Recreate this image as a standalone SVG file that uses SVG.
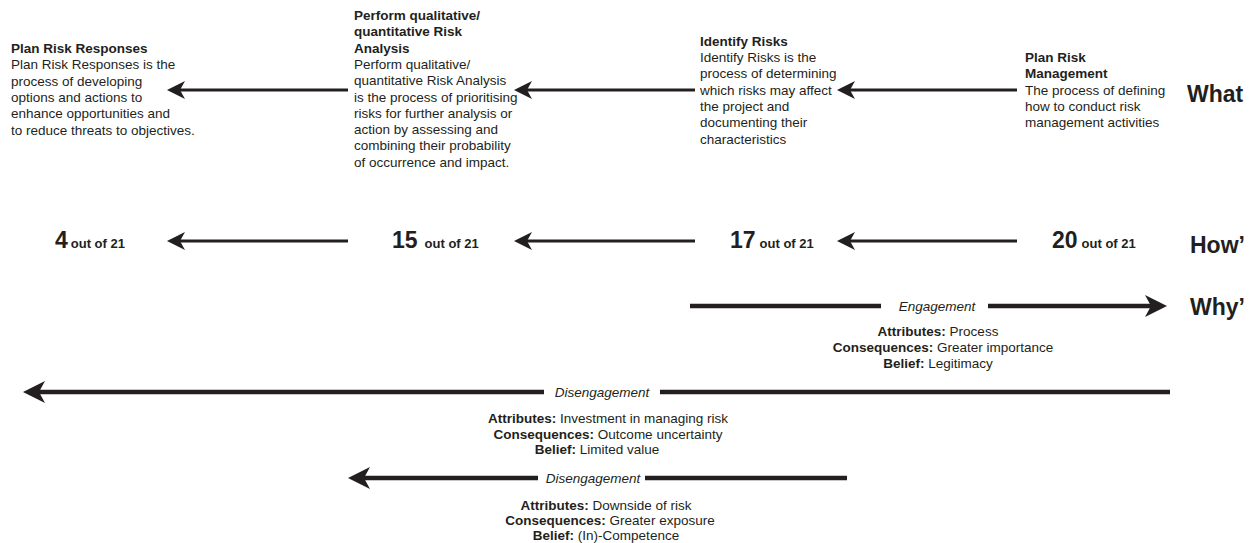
<svg xmlns="http://www.w3.org/2000/svg" width="1256" height="543" viewBox="0 0 1256 543">
<style>
text{font-family:"Liberation Sans",Arial,sans-serif;fill:#231f20}
.t{font-size:13.5px;font-weight:bold}
.b{font-size:13.5px}
.big{font-size:23px;font-weight:bold}
.sm{font-size:13px;font-weight:bold}
.q{font-size:23px;font-weight:bold}
.it{font-size:13.5px;font-style:italic}
.lb{font-weight:bold}
.kv{font-size:13.5px;text-anchor:middle}
.thin{stroke:#231f20;stroke-width:2.8;fill:none}
.thick{stroke:#231f20;stroke-width:4.5;fill:none}
</style>
<defs>
<marker id="ah" viewBox="0 0 18 18" markerWidth="18" markerHeight="18" refX="5" refY="9" orient="auto" markerUnits="userSpaceOnUse">
<path d="M0,0 L18,9 L0,18 L5,9 Z" fill="#231f20"/>
</marker>
<marker id="ahk" viewBox="0 0 22 22" markerWidth="22" markerHeight="22" refX="6" refY="11" orient="auto" markerUnits="userSpaceOnUse">
<path d="M0,0 L22,11 L0,22 L6,11 Z" fill="#231f20"/>
</marker>
</defs>
<rect width="1256" height="543" fill="#fff"/>

<g id="n-plan-risk-responses">
<text x="11" y="53" class="t">Plan Risk Responses</text>
<text x="11" y="69.3" class="b">Plan Risk Responses is the</text>
<text x="11" y="85.6" class="b">process of developing</text>
<text x="11" y="101.9" class="b">options and actions to</text>
<text x="11" y="118.2" class="b">enhance opportunities and</text>
<text x="11" y="134.5" class="b">to reduce threats to objectives.</text>
</g>

<g id="n-risk-analysis">
<text x="354" y="20" class="t">Perform qualitative/</text>
<text x="354" y="36.3" class="t">quantitative Risk</text>
<text x="354" y="52.6" class="t">Analysis</text>
<text x="354" y="68.9" class="b">Perform qualitative/</text>
<text x="354" y="85.2" class="b">quantitative Risk Analysis</text>
<text x="354" y="101.5" class="b">is the process of prioritising</text>
<text x="354" y="117.8" class="b">risks for further analysis or</text>
<text x="354" y="134.1" class="b">action by assessing and</text>
<text x="354" y="150.4" class="b">combining their probability</text>
<text x="354" y="166.7" class="b">of occurrence and impact.</text>
</g>

<g id="n-identify-risks">
<text x="700" y="45.7" class="t">Identify Risks</text>
<text x="700" y="62" class="b">Identify Risks is the</text>
<text x="700" y="78.3" class="b">process of determining</text>
<text x="700" y="94.6" class="b">which risks may affect</text>
<text x="700" y="110.9" class="b">the project and</text>
<text x="700" y="127.2" class="b">documenting their</text>
<text x="700" y="143.5" class="b">characteristics</text>
</g>

<g id="n-plan-risk-management">
<text x="1025" y="62" class="t">Plan Risk</text>
<text x="1025" y="78.3" class="t">Management</text>
<text x="1025" y="94.6" class="b">The process of defining</text>
<text x="1025" y="110.9" class="b">how to conduct risk</text>
<text x="1025" y="127.2" class="b">management activities</text>
</g>

<g id="n-row-labels">
<text x="1187" y="102" class="q">What</text>
<text x="1190" y="253" class="q">How’</text>
<text x="1190" y="315" class="q">Why’</text>
</g>

<g id="n-count-4"><text x="55" y="248"><tspan class="big">4</tspan><tspan class="sm" dx="3">out of 21</tspan></text></g>
<g id="n-count-15"><text x="392" y="248"><tspan class="big">15</tspan><tspan class="sm" dx="7">out of 21</tspan></text></g>
<g id="n-count-17"><text x="730" y="248"><tspan class="big">17</tspan><tspan class="sm" dx="4">out of 21</tspan></text></g>
<g id="n-count-20"><text x="1052" y="248"><tspan class="big">20</tspan><tspan class="sm" dx="4">out of 21</tspan></text></g>

<g id="n-engagement">
<text x="937" y="310.5" class="it" text-anchor="middle">Engagement</text>
<text x="938" y="336" class="kv"><tspan class="lb">Attributes:</tspan>  Process</text>
<text x="943" y="352" class="kv"><tspan class="lb">Consequences:</tspan>  Greater importance</text>
<text x="938" y="367.5" class="kv"><tspan class="lb">Belief:</tspan>  Legitimacy</text>
</g>

<g id="n-disengagement-1">
<text x="602" y="396.5" class="it" text-anchor="middle">Disengagement</text>
<text x="608" y="423" class="kv"><tspan class="lb">Attributes:</tspan> Investment in managing risk</text>
<text x="608" y="438.5" class="kv"><tspan class="lb">Consequences:</tspan>  Outcome uncertainty</text>
<text x="597" y="454" class="kv"><tspan class="lb">Belief:</tspan>  Limited value</text>
</g>

<g id="n-disengagement-2">
<text x="593" y="482.5" class="it" text-anchor="middle">Disengagement</text>
<text x="606" y="510" class="kv"><tspan class="lb">Attributes:</tspan> Downside of risk</text>
<text x="610" y="525" class="kv"><tspan class="lb">Consequences:</tspan>  Greater exposure</text>
<text x="606" y="540" class="kv"><tspan class="lb">Belief:</tspan>  (In)-Competence</text>
</g>

<g id="connectors">
<line x1="348" y1="90" x2="180" y2="90" class="thin" marker-end="url(#ah)"/>
<line x1="695" y1="90" x2="527" y2="90" class="thin" marker-end="url(#ah)"/>
<line x1="1017" y1="90" x2="850" y2="90" class="thin" marker-end="url(#ah)"/>
<line x1="348" y1="241" x2="180" y2="241" class="thin" marker-end="url(#ah)"/>
<line x1="695" y1="241" x2="527" y2="241" class="thin" marker-end="url(#ah)"/>
<line x1="1017" y1="241" x2="850" y2="241" class="thin" marker-end="url(#ah)"/>
<line x1="690" y1="306" x2="881" y2="306" class="thick"/>
<line x1="988" y1="306" x2="1151" y2="306" class="thick" marker-end="url(#ahk)"/>
<line x1="1170" y1="392" x2="660" y2="392" class="thick"/>
<line x1="544" y1="392" x2="39" y2="392" class="thick" marker-end="url(#ahk)"/>
<line x1="847" y1="478" x2="645" y2="478" class="thick"/>
<line x1="538" y1="478" x2="364" y2="478" class="thick" marker-end="url(#ahk)"/>
</g>
</svg>
